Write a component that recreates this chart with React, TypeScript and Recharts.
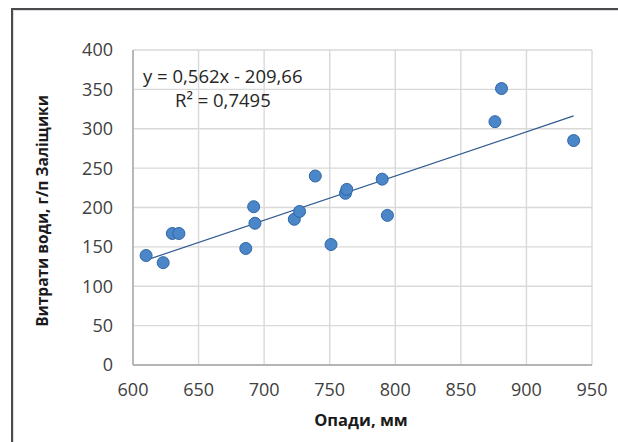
import React from 'react';
import { ScatterChart, Scatter, XAxis, YAxis, CartesianGrid } from 'recharts';

const precipitation = [610, 623, 630, 635, 686, 692, 693, 723, 727, 739, 751, 762, 763, 790, 794, 876, 881, 936];
const waterUse = [139, 130, 167, 167, 148, 201, 180, 185, 195, 240, 153, 218, 223, 236, 190, 309, 351, 285];
const xTicks = [600, 650, 700, 750, 800, 850, 900, 950];
const yTicks = [0, 50, 100, 150, 200, 250, 300, 350, 400];
const slope = 0.562;
const intercept = -209.66;
const equationText = 'y = 0,562x - 209,66';
const r2Text = 'R² = 0,7495';
const xTitle = 'Опади, мм';
const yTitle = 'Витрати води, г/п Заліщики';

const points = precipitation.map((x, i) => ({ x, y: waterUse[i] }));
const minX = Math.min(...precipitation);
const maxX = Math.max(...precipitation);
const trend = [
  { x: minX, y: slope * minX + intercept },
  { x: maxX, y: slope * maxX + intercept },
];

const FONT = "'Open Sans', sans-serif";

const Dot = (props: any) => {
  const { cx, cy } = props;
  if (cx == null || cy == null) return <g />;
  return <circle cx={cx} cy={cy} r={6} fill="#4a86c8" stroke="#2f65a6" strokeWidth={1} />;
};

const Empty = () => <g />;

export default function App() {
  return (
    <div style={{ position: 'absolute', left: 0, top: 0, width: 618, height: 442, overflow: 'hidden', background: '#fff' }}>
      <div
        style={{
          position: 'absolute',
          left: 11,
          top: 8,
          width: 800,
          height: 800,
          borderLeft: '2px solid #4a4a4a',
          borderTop: '2px solid #4a4a4a',
          boxShadow: 'inset 1px 1px 0 #d8dde6',
        }}
      />
      <div style={{ position: 'absolute', left: 0, top: 0 }}>
        <ScatterChart width={618} height={442} margin={{ top: 50, right: 26, bottom: 47, left: 73 }}>
          <CartesianGrid stroke="#d9d9d9" strokeWidth={1.4} />
          <XAxis
            type="number"
            dataKey="x"
            domain={[600, 950]}
            ticks={xTicks}
            interval={0}
            height={30}
            tickSize={0}
            tickMargin={18}
            axisLine={{ stroke: '#a6a6a6', strokeWidth: 1.4 }}
            tickLine={false}
            tick={{ fontFamily: FONT, fontSize: 18, fill: '#404040' }}
            allowDataOverflow
          />
          <YAxis
            type="number"
            dataKey="y"
            domain={[0, 400]}
            ticks={yTicks}
            interval={0}
            width={60}
            tickSize={0}
            tickMargin={20}
            axisLine={{ stroke: '#a6a6a6', strokeWidth: 1.4 }}
            tickLine={false}
            tick={{ fontFamily: FONT, fontSize: 18, fill: '#404040' }}
            allowDataOverflow
          />
          <Scatter
            data={trend}
            line={{ stroke: '#2f5b8f', strokeWidth: 1.2 }}
            shape={Empty}
            isAnimationActive={false}
          />
          <Scatter data={points} shape={Dot} isAnimationActive={false} />
        </ScatterChart>
      </div>
      <svg width={618} height={442} style={{ position: 'absolute', left: 0, top: 0, pointerEvents: 'none' }}>
        <text x={143} y={82.5} fontFamily={FONT} fontSize={18.5} fill="#262626">{equationText}</text>
        <text x={175} y={106.5} fontFamily={FONT} fontSize={18.5} fill="#262626">{r2Text}</text>
        <text x={361} y={426} textAnchor="middle" fontFamily={FONT} fontSize={16.5} fontWeight="bold" fill="#1a1a1a">{xTitle}</text>
        <text
          x={0}
          y={0}
          transform="translate(48 211) rotate(-90)"
          textAnchor="middle"
          fontFamily={FONT}
          fontSize={15.5}
          fontWeight="bold"
          fill="#1a1a1a"
        >
          {yTitle}
        </text>
      </svg>
    </div>
  );
}
